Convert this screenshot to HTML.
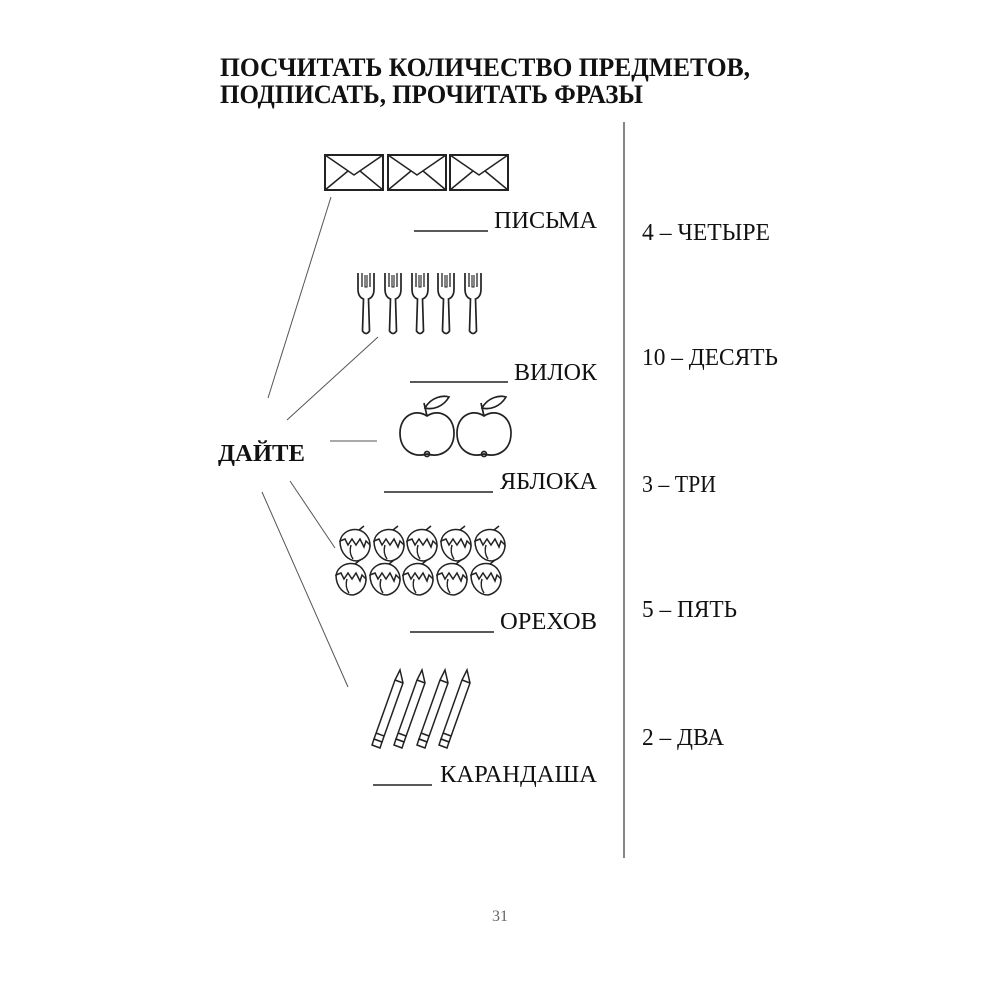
<!DOCTYPE html>
<html><head><meta charset="utf-8"><style>
html,body{margin:0;padding:0;background:#fff;width:1000px;height:1000px;overflow:hidden}
svg{display:block}
text{font-family:"Liberation Serif","DejaVu Serif",serif;fill:#111}
</style></head><body>
<svg width="1000" height="1000" viewBox="0 0 1000 1000" xmlns="http://www.w3.org/2000/svg">
<defs>
 <g id="env" fill="#fff" stroke="#222" stroke-width="2">
  <rect x="0" y="0" width="58" height="35"/>
  <polyline points="0,0 29,20 58,0" fill="none" stroke-width="1.5"/>
  <line x1="0" y1="35" x2="23" y2="16" stroke-width="1.5"/>
  <line x1="58" y1="35" x2="35" y2="16" stroke-width="1.5"/>
 </g>
 <g id="fork" fill="none" stroke="#222" stroke-width="1.7">
  <path d="M-8,0 L-8,16 Q-8,24 -2.5,26 L-3.5,58 Q0,63 3.5,58 L2.5,26 Q8,24 8,16 L8,0"/>
  <path d="M-4,0 L-4,14 M4,0 L4,14" stroke-width="1.3"/>
  <path d="M-1,2 L-1,14 L1,14 L1,2" stroke-width="1.1"/>
 </g>
 <g id="apple" fill="none" stroke="#222" stroke-width="1.7">
  <path d="M0,-14 C-12,-22 -27,-14 -27,3 C-27,20 -14,28 0,24 C14,28 27,20 27,3 C27,-14 12,-22 0,-14 Z"/>
  <path d="M0,-14 L-3,-27"/>
  <path d="M-2,-22 C4,-33 16,-35 22,-33 C16,-23 6,-20 -2,-22 Z"/>
  <circle cx="0" cy="24" r="2.5"/>
 </g>
 <g id="nut" fill="none" stroke="#222" stroke-width="1.5">
  <path d="M-15,-4 C-15,9 -6,16 2,16 C11,14 15,7 15,0"/>
  <path d="M-15,-4 C-13,-13 -4,-17 4,-15 C11,-13 15,-6 15,0 L11,-4 L9,2 L5,-6 L1,0 L-3,-6 L-7,0 L-10,-6 L-15,-4 Z"/>
  <path d="M-4,0 C-6,7 -4,11 -2,14"/>
  <path d="M4,-15 L9,-19"/>
 </g>
 <g id="pencil" fill="#fff" stroke="#222" stroke-width="1.5">
  <path d="M0,0 L3,13 L-18,72 L-26,69 L-5,10 Z"/>
  <path d="M-5,10 L3,13"/>
  <path d="M-18,72 L-26,69 L-28,75 L-20,78 Z"/>
  <path d="M-16,66 L-24,63"/>
 </g>
</defs>

<text x="220" y="76" font-size="26" font-weight="bold" textLength="530" lengthAdjust="spacingAndGlyphs">ПОСЧИТАТЬ  КОЛИЧЕСТВО  ПРЕДМЕТОВ,</text>
<text x="220" y="103" font-size="26" font-weight="bold" textLength="423" lengthAdjust="spacingAndGlyphs">ПОДПИСАТЬ,  ПРОЧИТАТЬ ФРАЗЫ</text>

<line x1="624" y1="122" x2="624" y2="858" stroke="#444" stroke-width="1.3"/>

<use href="#env" x="325" y="155"/>
<use href="#env" x="388" y="155"/>
<use href="#env" x="450" y="155"/>

<use href="#fork" x="366" y="273"/>
<use href="#fork" x="393" y="273"/>
<use href="#fork" x="420" y="273"/>
<use href="#fork" x="446" y="273"/>
<use href="#fork" x="473" y="273"/>

<use href="#apple" x="427" y="430"/>
<use href="#apple" x="484" y="430"/>

<use href="#nut" x="355" y="545"/><use href="#nut" x="389" y="545"/><use href="#nut" x="422" y="545"/><use href="#nut" x="456" y="545"/><use href="#nut" x="490" y="545"/>
<use href="#nut" x="351" y="579"/><use href="#nut" x="385" y="579"/><use href="#nut" x="418" y="579"/><use href="#nut" x="452" y="579"/><use href="#nut" x="486" y="579"/>

<use href="#pencil" x="400" y="670"/>
<use href="#pencil" x="422" y="670"/>
<use href="#pencil" x="445" y="670"/>
<use href="#pencil" x="467" y="670"/>

<g stroke="#555" stroke-width="1">
 <line x1="268" y1="398" x2="331" y2="197"/>
 <line x1="287" y1="420" x2="378" y2="337"/>
 <line x1="330" y1="441" x2="377" y2="441"/>
 <line x1="290" y1="481" x2="335" y2="548"/>
 <line x1="262" y1="492" x2="348" y2="687"/>
</g>

<text x="218" y="461" font-size="24" font-weight="bold" textLength="87" lengthAdjust="spacingAndGlyphs">ДАЙТЕ</text>

<g stroke="#222" stroke-width="1.5">
 <line x1="414" y1="231" x2="488" y2="231"/>
 <line x1="410" y1="382" x2="508" y2="382"/>
 <line x1="384" y1="492" x2="493" y2="492"/>
 <line x1="410" y1="632" x2="494" y2="632"/>
 <line x1="373" y1="785" x2="432" y2="785"/>
</g>
<g font-size="24">
 <text x="494" y="228" textLength="103" lengthAdjust="spacingAndGlyphs">ПИСЬМА</text>
 <text x="514" y="380" textLength="83" lengthAdjust="spacingAndGlyphs">ВИЛОК</text>
 <text x="500" y="489" textLength="97" lengthAdjust="spacingAndGlyphs">ЯБЛОКА</text>
 <text x="500" y="629" textLength="97" lengthAdjust="spacingAndGlyphs">ОРЕХОВ</text>
 <text x="440" y="782" textLength="157" lengthAdjust="spacingAndGlyphs">КАРАНДАША</text>
</g>
<g font-size="24">
 <text x="642" y="240" textLength="128" lengthAdjust="spacingAndGlyphs">4 – ЧЕТЫРЕ</text>
 <text x="642" y="365" textLength="136" lengthAdjust="spacingAndGlyphs">10 – ДЕСЯТЬ</text>
 <text x="642" y="492" textLength="74" lengthAdjust="spacingAndGlyphs">3 – ТРИ</text>
 <text x="642" y="617" textLength="95" lengthAdjust="spacingAndGlyphs">5 – ПЯТЬ</text>
 <text x="642" y="745" textLength="82" lengthAdjust="spacingAndGlyphs">2 – ДВА</text>
</g>
<text x="500" y="921" font-size="16" text-anchor="middle" style="fill:#666">31</text>
</svg>
</body></html>
